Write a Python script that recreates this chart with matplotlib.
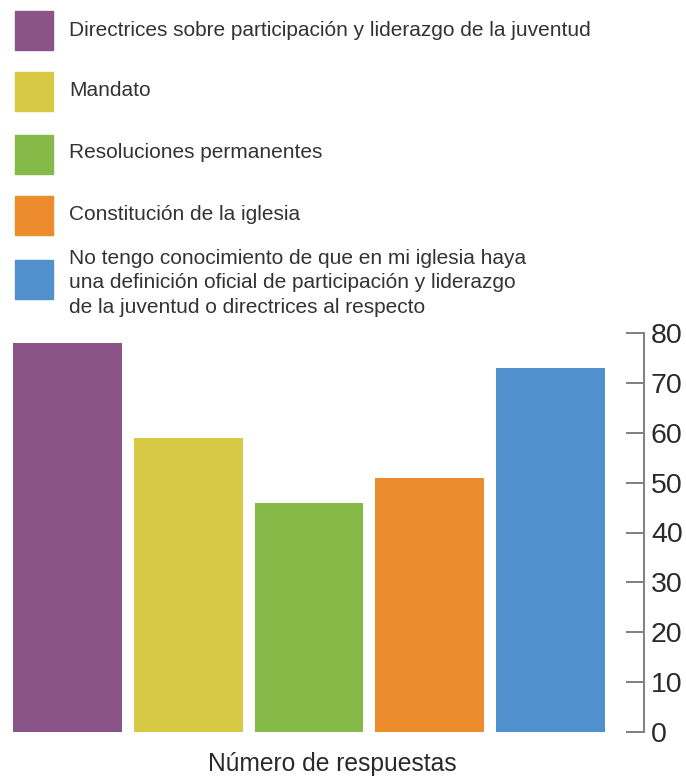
import matplotlib
matplotlib.use("Agg")
import matplotlib.pyplot as plt
from matplotlib.patches import Rectangle
from matplotlib import font_manager as fm

names = {f.name for f in fm.fontManager.ttflist}
fam = ['Liberation Sans Narrow'] if 'Liberation Sans Narrow' in names else ['Liberation Sans']
plt.rcParams['font.family'] = fam + ['DejaVu Sans']

categories = [
    "Directrices sobre participación y liderazgo de la juventud",
    "Mandato",
    "Resoluciones permanentes",
    "Constitución de la iglesia",
    "No tengo conocimiento de que en mi iglesia haya\nuna definición oficial de participación y liderazgo\nde la juventud o directrices al respecto",
]
values = [78, 59, 46, 51, 73]
colors = ["#8B5488", "#D7C944", "#86BA48", "#EC8C2D", "#5090CD"]
yticks = [0, 10, 20, 30, 40, 50, 60, 70, 80]
xlabel = "Número de respuestas"

W, H = 686, 776
fig = plt.figure(figsize=(W/100, H/100), dpi=100)

ax = fig.add_axes([0, (H-732)/H, 644/W, 399/H])
x = list(range(len(values)))
ax.bar(x, values, width=0.9, color=colors)
ax.set_xlim(-0.559, 4.776)
ax.set_ylim(0, 80)
for s in ['left', 'top', 'bottom']:
    ax.spines[s].set_visible(False)
ax.spines['right'].set_color('#808080')
ax.spines['right'].set_linewidth(1.4)
ax.yaxis.tick_right()
ax.set_yticks(yticks)
ax.set_yticklabels([str(v) for v in yticks])
ax.tick_params(axis='y', direction='in', length=13, width=1.2, color='#6a6a6a',
               labelsize=20.5, labelcolor='#2a2a2a', pad=5)
ax.set_xticks([])
fig.text(332/W, 1 - 764/H, xlabel, ha='center', va='center', fontsize=17.7, color='#2a2a2a')

# legend
sq_top = [11, 72, 135, 196, 260]
txt_y = [30, 91, 153, 215, 283]
for c, lab, yt, ty in zip(colors, categories, sq_top, txt_y):
    fig.patches.append(Rectangle((15/W, 1 - (yt+39)/H), 38/W, 39/H,
                                 transform=fig.transFigure, color=c))
    fig.text(69/W, 1 - ty/H, lab, ha='left', va='center', fontsize=15,
             color='#333333', linespacing=1.39)

fig.savefig("out.png", dpi=100)
